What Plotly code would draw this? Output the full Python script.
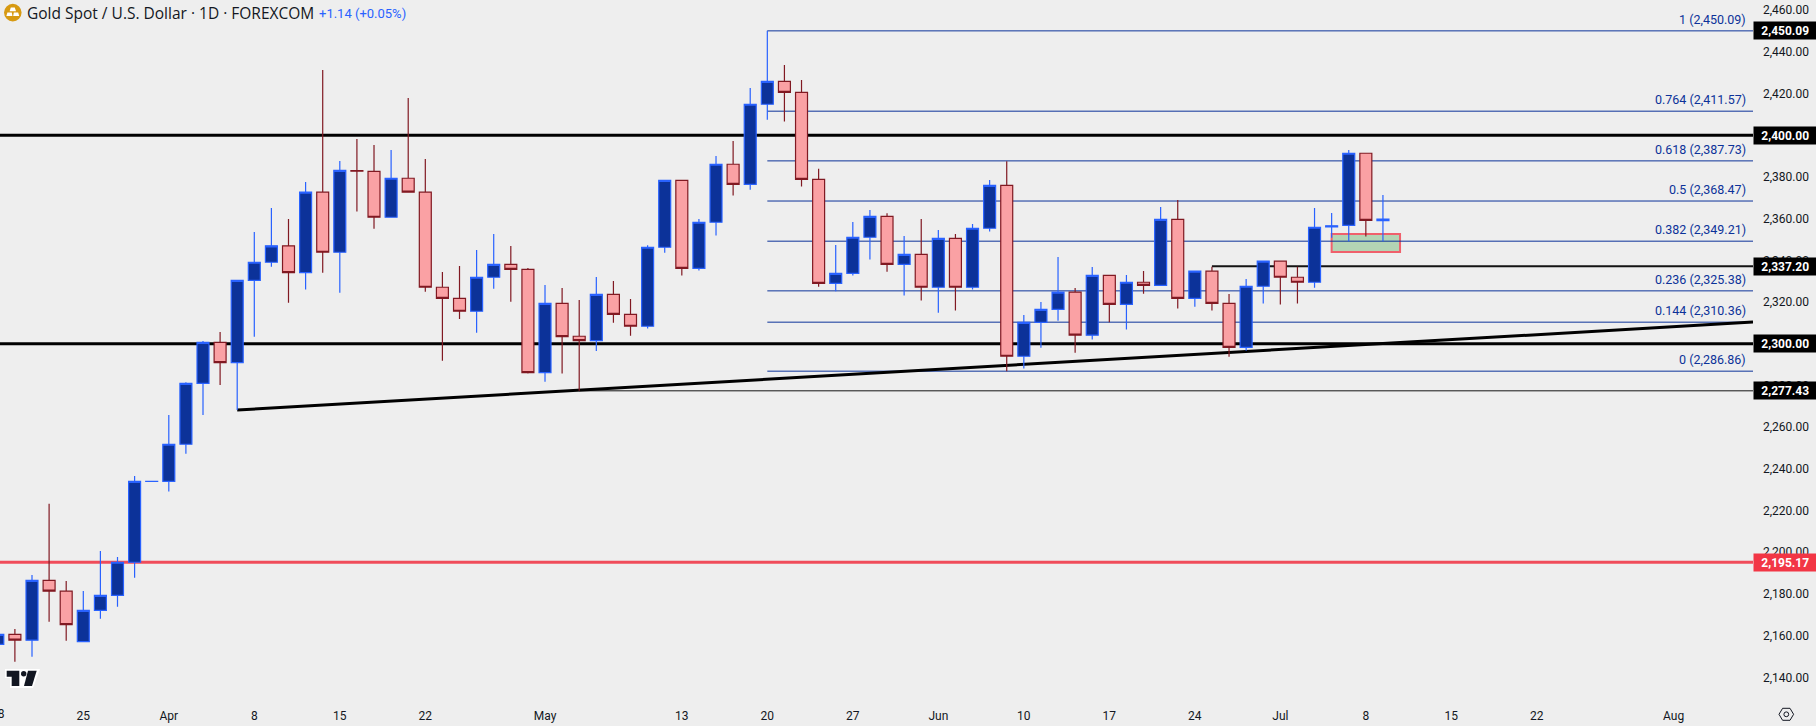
import pandas as pd
import plotly.graph_objects as go

# --- data ---
open_ = [2155.8, 2160.6, 2157.8, 2186.5, 2181.3, 2157.1, 2172.1, 2179.3, 2195.2, 2234.0, 2234.0, 2251.8, 2281.0, 2300.7, 2291.0,
         2330.4, 2339.1, 2347.0, 2334.1, 2372.7, 2343.9, 2383.1, 2382.7, 2360.7, 2379.4, 2372.7, 2327.1, 2321.8, 2315.6, 2331.9,
         2338.1, 2335.7, 2286.2, 2319.4, 2303.6, 2301.5, 2323.7, 2314.1, 2308.4, 2346.3, 2378.4, 2336.2, 2358.3, 2386.1, 2376.5,
         2414.9, 2425.9, 2420.6, 2378.9, 2329.0, 2333.8, 2351.1, 2361.1, 2338.1, 2342.9, 2327.1, 2350.6, 2327.1, 2355.4, 2376.0,
         2294.0, 2310.3, 2316.5, 2324.8, 2304.1, 2332.8, 2318.9, 2329.5, 2328.0, 2359.7, 2321.8, 2334.8, 2319.4, 2298.3, 2327.6,
         2339.6, 2331.9, 2329.5, 2356.0, 2356.8, 2391.4, 2359.0]
high = [2164.0, 2163.2, 2189.1, 2223.2, 2186.2, 2181.4, 2200.6, 2197.7, 2236.6, 2234.1, 2265.8, 2281.5, 2301.3, 2305.7, 2330.4,
        2353.6, 2365.1, 2359.9, 2377.6, 2431.3, 2387.7, 2398.2, 2395.4, 2393.0, 2417.9, 2388.6, 2334.4, 2337.3, 2345.0, 2352.7,
        2346.9, 2336.4, 2328.2, 2326.8, 2321.0, 2332.0, 2330.1, 2321.5, 2347.2, 2378.4, 2378.4, 2359.9, 2390.1, 2397.3, 2422.7,
        2450.09, 2433.7, 2426.5, 2383.9, 2347.4, 2358.4, 2364.2, 2362.6, 2351.7, 2359.9, 2354.6, 2352.7, 2357.5, 2378.6, 2387.5,
        2313.8, 2320.0, 2341.6, 2326.8, 2336.8, 2332.8, 2333.0, 2334.9, 2365.6, 2369.0, 2334.8, 2337.0, 2323.9, 2331.1, 2339.6,
        2339.6, 2337.0, 2365.1, 2362.7, 2393.0, 2391.4, 2371.4]
low = [2150.0, 2147.5, 2149.9, 2166.7, 2157.6, 2157.1, 2168.1, 2173.9, 2187.8, 2233.9, 2229.1, 2247.3, 2265.8, 2280.2, 2268.2,
       2303.4, 2337.0, 2319.7, 2326.0, 2334.1, 2324.5, 2363.4, 2355.2, 2360.7, 2372.7, 2325.0, 2291.9, 2311.9, 2305.3, 2326.4,
       2320.2, 2285.7, 2281.8, 2285.7, 2277.43, 2296.5, 2310.1, 2303.9, 2307.3, 2343.7, 2332.7, 2335.1, 2351.9, 2371.1, 2373.9,
       2407.5, 2406.6, 2375.4, 2327.4, 2325.2, 2332.7, 2340.4, 2334.6, 2323.1, 2320.7, 2314.9, 2315.9, 2326.0, 2353.8, 2286.86,
       2288.1, 2298.1, 2311.1, 2295.7, 2302.0, 2310.3, 2306.8, 2324.0, 2328.0, 2316.9, 2317.8, 2315.9, 2293.8, 2296.7, 2319.3,
       2318.8, 2319.3, 2326.9, 2350.9, 2349.2, 2351.4, 2349.2]
close = [2160.6, 2157.8, 2186.5, 2181.3, 2165.3, 2172.1, 2179.3, 2195.2, 2234.0, 2234.05, 2251.8, 2281.0, 2300.7, 2291.0, 2330.4,
         2339.1, 2347.0, 2334.1, 2372.7, 2343.9, 2383.2, 2382.8, 2360.7, 2379.4, 2372.7, 2327.1, 2321.8, 2315.6, 2331.9, 2338.1,
         2335.7, 2286.2, 2319.4, 2303.4, 2301.5, 2323.7, 2314.1, 2308.4, 2346.3, 2378.4, 2336.2, 2358.3, 2386.1, 2376.5, 2414.9,
         2425.9, 2420.6, 2378.9, 2329.0, 2333.8, 2351.1, 2361.1, 2338.1, 2342.9, 2327.1, 2350.6, 2327.1, 2355.4, 2376.0, 2294.0,
         2310.3, 2316.5, 2324.8, 2304.1, 2332.8, 2318.9, 2329.5, 2328.0, 2359.7, 2321.8, 2334.8, 2319.4, 2298.3, 2327.6, 2339.6,
         2331.9, 2329.5, 2355.9, 2356.6, 2391.4, 2359.2, 2359.8]

fib_ratios = ["1", "0.764", "0.618", "0.5", "0.382", "0.236", "0.144", "0"]
fib_levels = [2450.09, 2411.57, 2387.73, 2368.47, 2349.21, 2325.38, 2310.36, 2286.86]
price_tags = [2450.09, 2400.00, 2337.20, 2300.00, 2277.43]
red_level = 2195.17
price_ticks = list(range(2140, 2461, 20))
date_tick_vals = ["2024-03-25", "2024-04-01", "2024-04-08", "2024-04-15", "2024-04-22", "2024-05-01", "2024-05-13",
                  "2024-05-20", "2024-05-27", "2024-06-03", "2024-06-10", "2024-06-17", "2024-06-24", "2024-07-01",
                  "2024-07-08", "2024-07-15", "2024-07-22", "2024-08-01"]
date_tick_text = ["25", "Apr", "8", "15", "22", "May", "13", "20", "27", "Jun", "10", "17", "24", "Jul", "8", "15", "22", "Aug"]
dates = [d.strftime("%Y-%m-%d") for d in pd.bdate_range("2024-03-18", periods=104)]
bars = dates[:len(close)]

BG = "#eeeeee"
INK = "#131722"
PLOT_L, PLOT_R, PLOT_B = 0, 1753, 701
px_x = lambda v: v / PLOT_R
px_y = lambda v: (PLOT_B - v) / PLOT_B
RIGHT_EDGE = 102.64

fig = go.Figure(go.Candlestick(
    x=bars, open=open_, high=high, low=low, close=close,
    increasing=dict(line=dict(color="#2962ff", width=1.2), fillcolor="#0c3299"),
    decreasing=dict(line=dict(color="#801922", width=1.2), fillcolor="#faa1a4"),
    whiskerwidth=0, hoverinfo="skip", showlegend=False))

shapes = []
# green box
shapes.append(dict(type="rect", xref="x", yref="y", x0="2024-07-04", x1="2024-07-10", y0=2344.0, y1=2352.7,
                   fillcolor="#b3d4b4", line=dict(color="#f0606c", width=2), layer="below"))
# fib lines
for lv in fib_levels:
    shapes.append(dict(type="line", xref="x", yref="y", x0="2024-05-20", x1=RIGHT_EDGE, y0=lv, y1=lv,
                       line=dict(color="#0c3299", width=1), layer="below"))
# horizontals
shapes.append(dict(type="line", xref="paper", yref="y", x0=0, x1=1, y0=2400, y1=2400, line=dict(color="#000000", width=3), layer="below"))
shapes.append(dict(type="line", xref="paper", yref="y", x0=0, x1=1, y0=2300, y1=2300, line=dict(color="#000000", width=3), layer="below"))
shapes.append(dict(type="line", xref="x", yref="y", x0="2024-06-25", x1=RIGHT_EDGE, y0=2337.20, y1=2337.20, line=dict(color="#131313", width=2), layer="below"))
shapes.append(dict(type="line", xref="x", yref="y", x0="2024-05-03", x1=RIGHT_EDGE, y0=2277.43, y1=2277.43, line=dict(color="#131313", width=1), layer="below"))
shapes.append(dict(type="line", xref="paper", yref="y", x0=0, x1=1, y0=red_level, y1=red_level, line=dict(color="#f04c5a", width=3), layer="below"))
# trend line
shapes.append(dict(type="line", xref="x", yref="y", x0="2024-04-05", x1=RIGHT_EDGE, y0=2268.2, y1=2310.4, line=dict(color="#000000", width=3), layer="below"))


def path(points):
    return "M" + " L".join(f"{px_x(a):.5f},{px_y(b):.5f}" for a, b in points) + " Z"


def deco(points, color, line=None):
    shapes.append(dict(type="path", xref="paper", yref="paper", path=path(points), fillcolor=color,
                       line=dict(width=0) if line is None else line, layer="above"))


def circle(cx, cy, r, color, line=None):
    shapes.append(dict(type="circle", xref="paper", yref="paper", x0=px_x(cx - r), x1=px_x(cx + r),
                       y0=px_y(cy + r), y1=px_y(cy - r), fillcolor=color,
                       line=dict(width=0) if line is None else line, layer="above"))


# TradingView logo
deco([(5, 669), (40, 669), (33, 688), (10, 688), (10, 678), (5, 678)], "#ffffff")
deco([(6.7, 670.7), (19.3, 670.7), (19.3, 686), (11.7, 686), (11.7, 676.7), (6.7, 676.7)], INK)
circle(23.7, 673.7, 2.7, INK)
deco([(28, 670.7), (36.7, 670.7), (32, 686), (24, 686)], INK)
# gold icon
circle(12.8, 12.6, 8.8, "#d79a12")
deco([(10.8, 7.6), (14.8, 7.6), (16, 11.2), (9.6, 11.2)], "#ffffff")
deco([(7.4, 12.6), (11.8, 12.6), (12.4, 16), (6.4, 16)], "#ffffff")
deco([(13.8, 12.6), (18.2, 12.6), (19.2, 16), (13.2, 16)], "#ffffff")
# settings icon
hex_cx, hex_cy = 1786.3, 714.3
deco([(hex_cx - 7.3, hex_cy), (hex_cx - 3.7, hex_cy - 6), (hex_cx + 3.7, hex_cy - 6), (hex_cx + 7.3, hex_cy),
      (hex_cx + 3.7, hex_cy + 6), (hex_cx - 3.7, hex_cy + 6)], "rgba(0,0,0,0)", dict(color=INK, width=1))
circle(hex_cx, hex_cy, 2.4, "rgba(0,0,0,0)", dict(color=INK, width=1))

annotations = []
for ratio, lv in zip(fib_ratios, fib_levels):
    annotations.append(dict(xref="paper", yref="y", x=1, y=lv, xanchor="right", yanchor="bottom",
                            xshift=-6, yshift=3, showarrow=False, borderpad=0,
                            text=f"{ratio} ({lv:,.2f})",
                            font=dict(family="Roboto", size=12.5, color="#0c3299")))
for lv in price_tags:
    annotations.append(dict(xref="paper", yref="y", x=1, y=lv, xanchor="left", yanchor="middle", showarrow=False,
                            text=f"<b>{lv:,.2f}</b>", bgcolor="#000000", width=60.5, height=15, borderpad=1, align="center",
                            font=dict(family="Roboto", size=12, color="#ffffff")))
annotations.append(dict(xref="paper", yref="y", x=1, y=red_level, xanchor="left", yanchor="middle", showarrow=False,
                        text=f"<b>{red_level:,.2f}</b>", bgcolor="#f23645", width=60.5, height=15, borderpad=1, align="center",
                        font=dict(family="Roboto", size=12, color="#ffffff")))
annotations.append(dict(xref="paper", yref="paper", x=px_x(25), y=px_y(13), xanchor="left", yanchor="middle", showarrow=False,
                        text="Gold Spot / U.S. Dollar · 1D · FOREXCOM", font=dict(family="Open Sans", size=15.5, color=INK)))
annotations.append(dict(xref="paper", yref="paper", x=px_x(317), y=px_y(13), xanchor="left", yanchor="middle", showarrow=False,
                        text="+1.14 (+0.05%)", font=dict(family="Roboto", size=13, color="#2962ff")))
annotations.append(dict(xref="paper", yref="paper", x=px_x(-2.2), y=px_y(714), xanchor="center", yanchor="middle", showarrow=False,
                        text="18", font=dict(family="Roboto", size=12, color=INK)))

fig.update_layout(
    width=1816, height=726, autosize=False,
    margin=dict(l=PLOT_L, r=1816 - PLOT_R, t=0, b=726 - PLOT_B, pad=0),
    paper_bgcolor=BG, plot_bgcolor=BG, showlegend=False, boxgap=0.3, boxgroupgap=0,
    font=dict(family="Roboto", size=12, color=INK),
    shapes=shapes, annotations=annotations, hovermode=False, dragmode=False,
    xaxis=dict(type="category", categoryorder="array", categoryarray=dates, range=[0.129, RIGHT_EDGE],
               rangeslider=dict(visible=False), showgrid=False, zeroline=False, showline=False, ticks="",
               tickmode="array", tickvals=date_tick_vals, ticktext=date_tick_text, tickangle=0,
               tickfont=dict(family="Roboto", size=12, color=INK), ticklabelstandoff=6),
    yaxis=dict(side="right", range=[2128.64, 2464.9], showgrid=False, zeroline=False, showline=False, ticks="",
               tickmode="array", tickvals=price_ticks, tickformat=",.2f",
               tickfont=dict(family="Roboto", size=12, color=INK), ticklabelstandoff=9),
)

fig.write_html("out.html", config=dict(displayModeBar=False, staticPlot=True),
               post_script="document.body.style.margin='0';document.body.style.overflow='hidden';document.body.style.background='#eeeeee';")
